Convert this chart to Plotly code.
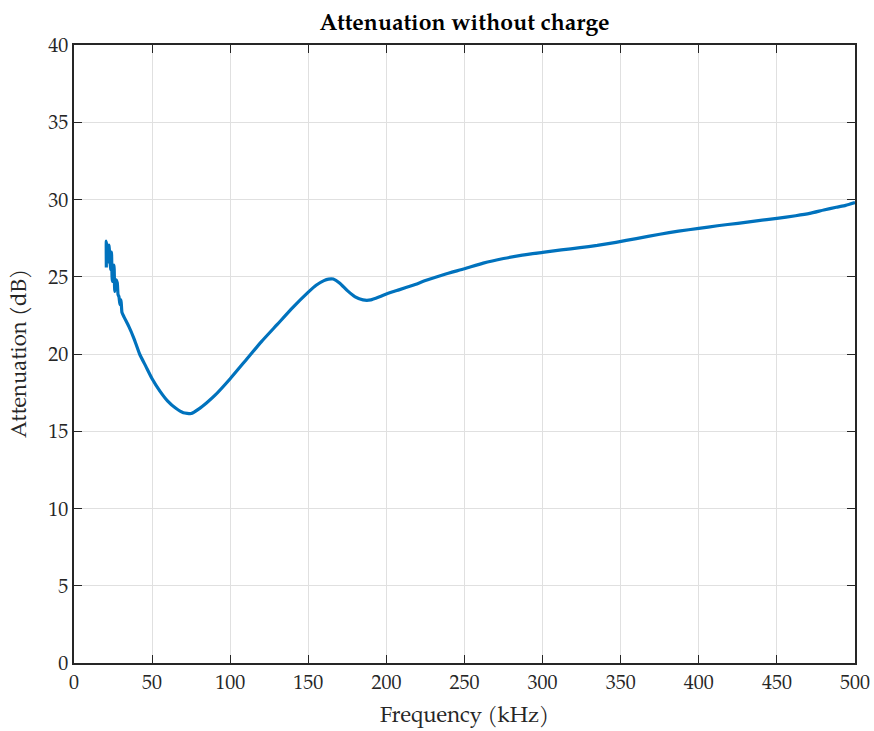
import plotly.graph_objects as go

# Frequency (kHz) and attenuation (dB)
freq_khz = [20.7, 20.7, 21.4, 22.1, 22.4, 23.5, 24.0, 24.5, 25.6, 26.1, 26.9, 27.7, 28.2,
            28.8, 29.4, 30.1, 30.7, 32.0, 35.0, 38.4, 42, 46, 50, 55, 60, 65, 70, 75, 80,
            85, 90, 100, 110, 120, 130, 140, 150, 155, 160, 163, 166, 170, 175, 180, 185,
            190, 196, 200, 208, 217, 225, 237, 250, 262, 275, 287, 300, 312, 324, 335,
            347, 360, 375, 387, 400, 412, 425, 437, 450, 462, 471, 480, 488, 494, 500]
atten_db = [25.6, 27.3, 26.7, 25.95, 27.05, 25.45, 26.6, 24.7, 25.75, 24.05, 24.8, 24.6,
            23.85, 23.7, 23.2, 23.5, 22.7, 22.4, 21.8, 21.0, 20.0, 19.2, 18.4, 17.6, 16.95,
            16.5, 16.2, 16.15, 16.45, 16.85, 17.3, 18.4, 19.6, 20.8, 21.9, 23.0, 24.0,
            24.45, 24.75, 24.85, 24.85, 24.6, 24.1, 23.7, 23.5, 23.5, 23.72, 23.88, 24.15,
            24.45, 24.75, 25.15, 25.52, 25.88, 26.18, 26.4, 26.58, 26.74, 26.88, 27.03,
            27.23, 27.47, 27.75, 27.95, 28.13, 28.3, 28.46, 28.62, 28.78, 28.95, 29.1,
            29.32, 29.5, 29.62, 29.8]

x_ticks = list(range(0, 501, 50))
y_ticks = list(range(0, 41, 5))

serif = "Palatino Linotype, Palatino, TeX Gyre Pagella, Liberation Serif, serif"
frame = "#262626"

fig = go.Figure()
fig.add_trace(go.Scatter(x=freq_khz, y=atten_db, mode="lines",
                         line=dict(color="#0072BD", width=3.2, shape="spline", smoothing=0.5),
                         showlegend=False))

axis_common = dict(showline=True, linecolor=frame, linewidth=1.5, mirror="allticks",
                   ticks="inside", ticklen=8, tickwidth=1.2, tickcolor=frame,
                   showgrid=True, gridcolor="#e0e0e0", gridwidth=1, zeroline=False,
                   automargin=False,
                   tickfont=dict(family=serif, size=20, color=frame))

fig.update_layout(
    width=874, height=731,
    margin=dict(l=74, r=19, t=45, b=68),
    paper_bgcolor="white", plot_bgcolor="white",
    title=dict(text="<b>Attenuation without charge</b>", x=0.5, xref="paper",
               xanchor="center",
               y=1 - 22 / 731, yref="container", yanchor="middle",
               font=dict(family=serif, size=23, color="black")),
    xaxis=dict(range=[0, 500], tickvals=x_ticks, **axis_common),
    yaxis=dict(range=[0, 40], tickvals=y_ticks, **axis_common),
    annotations=[
        dict(text="Frequency (kHz)", xref="paper", yref="paper", x=0.5, y=0,
             xanchor="center", yanchor="middle", yshift=-53, showarrow=False,
             font=dict(family=serif, size=22, color=frame)),
        dict(text="Attenuation (dB)", xref="paper", yref="paper", x=0, y=0.5,
             xanchor="center", yanchor="middle", xshift=-54, textangle=-90,
             showarrow=False, font=dict(family=serif, size=22, color=frame)),
    ],
)

fig.write_html("out.html")
